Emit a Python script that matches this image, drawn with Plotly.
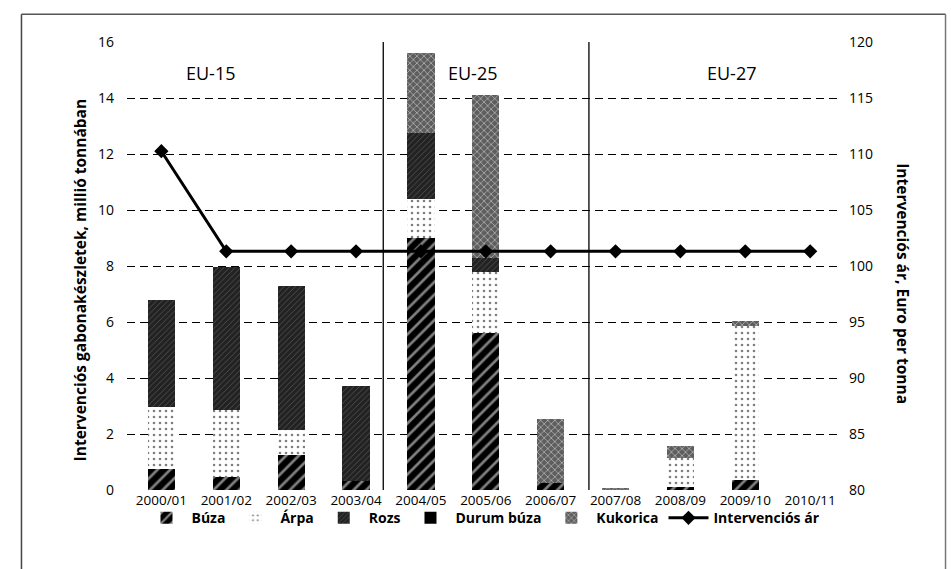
import plotly.graph_objects as go

# Marketing years
seasons = ["2000/01", "2001/02", "2002/03", "2003/04", "2004/05", "2005/06",
           "2006/07", "2007/08", "2008/09", "2009/10", "2010/11"]

# Intervention stocks, million tonnes (stacked)
buza = [0.75, 0.46, 1.24, 0.31, 9.00, 5.60, 0.25, 0.00, 0.10, 0.35, 0.0]
arpa = [2.21, 2.39, 0.89, 0.00, 1.40, 2.20, 0.00, 0.00, 1.03, 5.50, 0.0]
rozs = [3.83, 5.11, 5.14, 3.39, 2.35, 0.50, 0.00, 0.00, 0.00, 0.00, 0.0]
durum = [0.0, 0.0, 0.0, 0.0, 0.0, 0.0, 0.0, 0.0, 0.0, 0.0, 0.0]
kukorica = [0.0, 0.0, 0.0, 0.0, 2.85, 5.80, 2.30, 0.08, 0.45, 0.18, 0.0]

# Intervention price, EUR per tonne
ar = [110.25, 101.31, 101.31, 101.31, 101.31, 101.31, 101.31, 101.31, 101.31, 101.31, 101.31]

left_ticks = [0, 2, 4, 6, 8, 10, 12, 14, 16]
right_ticks = [80, 85, 90, 95, 100, 105, 110, 115, 120]

period_labels = ["EU-15", "EU-25", "EU-27"]
period_label_x = [0.77, 4.81, 8.80]
period_breaks = [3.42, 6.59]

FONT = "Open Sans"
BAR_W = 0.42

fig = go.Figure()

fig.add_trace(go.Bar(
    x=seasons, y=buza, name="Búza", width=BAR_W,
    marker=dict(color="black", line=dict(width=0),
                pattern=dict(shape="/", fgcolor="white", bgcolor="black",
                             size=9, solidity=0.3)),
))
fig.add_trace(go.Bar(
    x=seasons, y=arpa, name="Árpa", width=BAR_W,
    marker=dict(color="white", line=dict(width=0),
                pattern=dict(shape=".", fgcolor="black", bgcolor="white",
                             size=6, solidity=0.15)),
))
fig.add_trace(go.Bar(
    x=seasons, y=rozs, name="Rozs", width=BAR_W,
    marker=dict(color="#222222", line=dict(width=0),
                pattern=dict(shape="/", fgcolor="#8a8a8a", bgcolor="#222222",
                             size=4, solidity=0.2)),
))
fig.add_trace(go.Bar(
    x=seasons, y=durum, name="Durum búza", width=BAR_W,
    marker=dict(color="black", line=dict(width=0)),
))
fig.add_trace(go.Bar(
    x=seasons, y=kukorica, name="Kukorica", width=BAR_W,
    marker=dict(color="#6a6a6a", line=dict(width=0),
                pattern=dict(shape="x", fgcolor="white", bgcolor="#5e5e5e",
                             size=5, solidity=0.3)),
))
fig.add_trace(go.Scatter(
    x=seasons, y=ar, name="Intervenciós ár", yaxis="y2",
    mode="lines+markers",
    line=dict(color="black", width=3),
    marker=dict(symbol="diamond", size=11, color="black"),
))

annotations = [
    dict(text=t, x=xv, y=14.9, xref="x", yref="y", showarrow=False,
         font=dict(family=FONT, size=18, color="black"))
    for t, xv in zip(period_labels, period_label_x)
]
annotations += [
    dict(text="<b>Intervenciós gabonakészletek, millió tonnában</b>",
         x=-0.066, y=0.47, xref="paper", yref="paper", textangle=-90,
         xanchor="center", yanchor="middle",
         showarrow=False, font=dict(family=FONT, size=15.5, color="black")),
    dict(text="<b>Intervenciós ár, Euro per tonna</b>",
         x=1.088, y=0.46, xref="paper", yref="paper", textangle=90,
         xanchor="center", yanchor="middle",
         showarrow=False, font=dict(family=FONT, size=15.5, color="black")),
]

shapes = [
    dict(type="line", xref="x", yref="y", x0=b, x1=b, y0=0, y1=16,
         line=dict(color="black", width=1.3))
    for b in period_breaks
]
# outer frame of the figure panel
shapes += [
    dict(type="line", xref="paper", yref="paper", x0=-0.148, x1=1.148, y0=1.062, y1=1.062,
         line=dict(color="#555555", width=1.5)),
    dict(type="line", xref="paper", yref="paper", x0=-0.148, x1=-0.148, y0=1.062, y1=-0.2,
         line=dict(color="#444444", width=1.5)),
    dict(type="line", xref="paper", yref="paper", x0=1.148, x1=1.148, y0=1.062, y1=-0.2,
         line=dict(color="#777777", width=1.5)),
]

fig.update_layout(
    width=951, height=569,
    margin=dict(l=127, r=111, t=42, b=79),
    paper_bgcolor="white", plot_bgcolor="white",
    barmode="stack",
    font=dict(family=FONT, size=13, color="black"),
    showlegend=True,
    legend=dict(orientation="h", x=0.5, xanchor="center", y=-0.063, yanchor="middle",
                font=dict(family=FONT, size=14, color="black", weight="bold"),
                traceorder="normal", itemwidth=40, bgcolor="rgba(0,0,0,0)"),
    xaxis=dict(type="category", range=[-0.53, 10.46], showgrid=False, showline=False,
               ticks="", zeroline=False, tickfont=dict(size=13.5)),
    yaxis=dict(range=[0, 16], tickvals=left_ticks, showgrid=True, gridcolor="black",
               griddash="8px,5px", gridwidth=1, zeroline=False, showline=False,
               ticks="", tickfont=dict(size=14), ticklabelstandoff=12),
    yaxis2=dict(range=[80, 120], tickvals=right_ticks, overlaying="y", side="right",
                showgrid=False, zeroline=False, showline=False, ticks="",
                tickfont=dict(size=14), ticklabelstandoff=8),
    annotations=annotations,
    shapes=shapes,
)

fig.write_html("out.html")
